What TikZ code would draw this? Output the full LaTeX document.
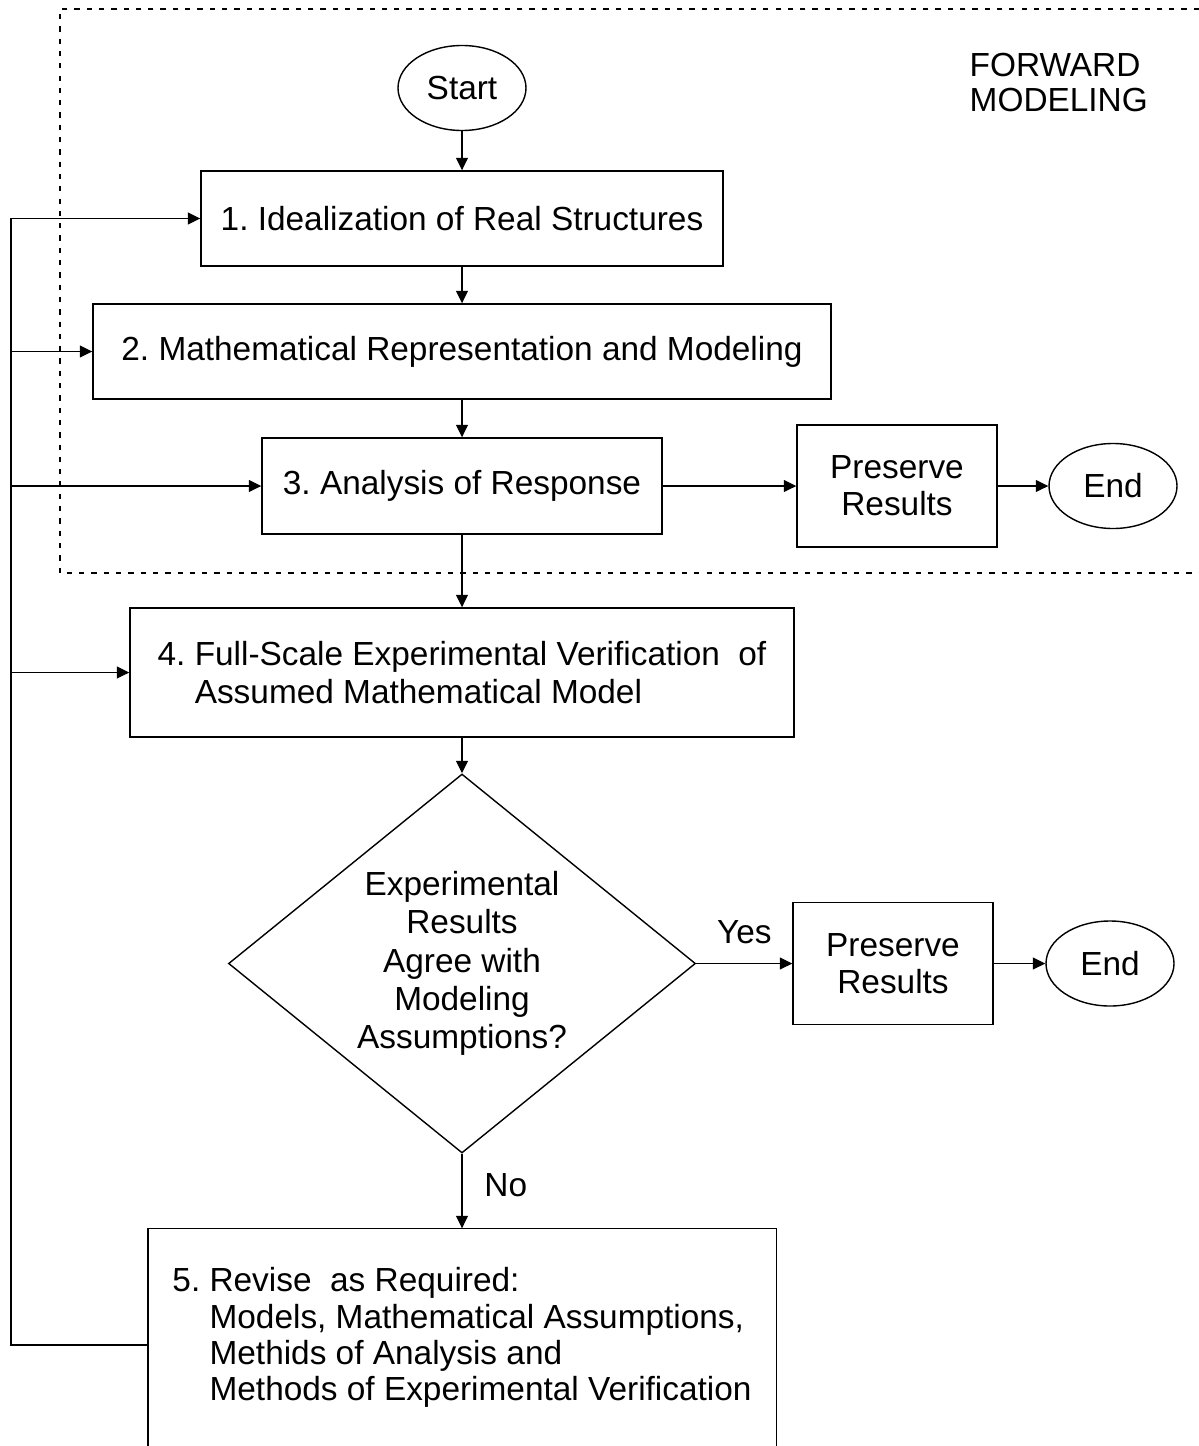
\documentclass[tikz,border=0pt]{standalone}
\usepackage{fontspec}
\setmainfont{Liberation Sans}
\usetikzlibrary{arrows.meta}
\usetikzlibrary{shapes.geometric}
\frenchspacing

\begin{document}
\begin{tikzpicture}[
		font=\fontsize{9.5}{10.6}\selectfont,
		box/.style={rectangle,draw,inner sep=2pt},
		term/.style={ellipse,draw,minimum width=1.28cm,minimum height=0.85cm,inner sep=0pt},
		arr/.style={-{Triangle[length=0.125cm,width=0.12cm]}}
	]
		\useasboundingbox (0,0) rectangle (11.99,-14.46);
		
		% Frame of the forward modeling part
		\draw[dash pattern=on 1.5pt off 2pt] (11.99,-0.09) -- (0.60,-0.09) -- (0.60,-5.73) -- (11.99,-5.73);
		\node[anchor=west,align=left,inner sep=0pt,font=\fontsize{9.5}{10}\selectfont] (fwd) at (9.69,-0.825) {FORWARD\\MODELING};
		
		% Main column
		\node[term] (start) at (4.62,-0.88) {Start};
		\node[box,minimum width=5.22cm,minimum height=0.95cm] (s1) at (4.62,-2.185) {1. Idealization of Real Structures};
		\node[box,minimum width=7.38cm,minimum height=0.95cm] (s2) at (4.62,-3.515) {2. Mathematical Representation and Modeling};
		\node[box,minimum width=4.00cm,minimum height=0.96cm] (s3) at (4.62,-4.86) {3. Analysis of Response};
		\node[box,minimum width=6.64cm,minimum height=1.29cm,align=left] (s4) at (4.62,-6.725) {4. Full-Scale Experimental Verification\ \ of\\\hphantom{4.\ }Assumed Mathematical Model};
		\node[diamond,draw,aspect=1.232,minimum width=4.67cm,minimum height=3.79cm,inner sep=0pt,align=center,font=\fontsize{9.5}{10.9}\selectfont] (check) at (4.62,-9.635) {Experimental\\Results\\Agree with\\Modeling\\Assumptions?};
		\node[minimum width=6.27cm,minimum height=2.17cm,align=left,font=\fontsize{9.5}{10.3}\selectfont] (s5) at (4.62,-13.375) {5. Revise\ \ as Required:\\\hphantom{5.\ }Models, Mathematical Assumptions,\\\hphantom{5.\ }Methids of Analysis and\\\hphantom{5.\ }Methods of Experimental Verification};
		\draw (s5.south west) -- (s5.north west) -- (s5.north east) -- (s5.south east);
		
		% Exits
		\node[box,minimum width=2.00cm,minimum height=1.22cm,align=center] (keep1) at (8.97,-4.86) {Preserve\\Results};
		\node[term] (end1) at (11.13,-4.86) {End};
		\node[box,minimum width=2.00cm,minimum height=1.22cm,align=center] (keep2) at (8.93,-9.635) {Preserve\\Results};
		\node[term] (end2) at (11.10,-9.635) {End};
		
		% Arrows
		\draw[arr] (start) -- (s1);
		\draw[arr] (s1) -- (s2);
		\draw[arr] (s2) -- (s3);
		\draw[arr] (s3) -- (s4);
		\draw[arr] (s4) -- (check);
		\draw[arr] (s3) -- (keep1);
		\draw[arr] (keep1) -- (end1);
		\draw[arr] (check) -- node[above=0.07cm] (yes) {Yes} (keep2);
		\draw[arr] (keep2) -- (end2);
		\draw[arr] (check) -- node[right=0.1cm,pos=0.42] (no) {No} (s5);
		
		% Loop back to the steps
		\coordinate (back) at (0.11,-13.45);
		\draw[arr] (s5.west |- back) -- (back) |- (s1);
		\foreach \s in {s2,s3,s4}{
			\draw[arr] (back |- \s) -- (\s);
		}
\end{tikzpicture}
\end{document}
